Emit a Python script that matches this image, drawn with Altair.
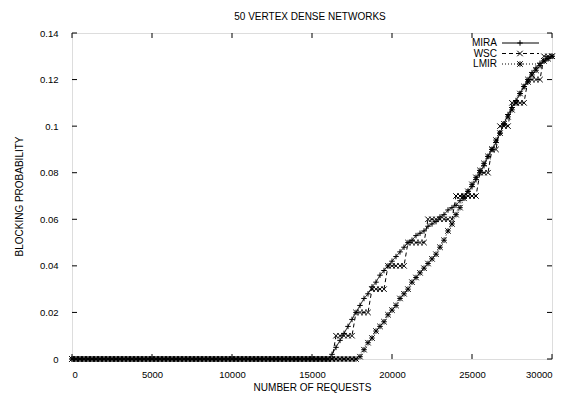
import altair as alt
import pandas as pd

# ---- data ----
requests = list(range(0, 30001, 250))  # 121 sample points

# MIRA: zero up to 15750, then values from 16000 .. 30000
mira = [0.0] * 64 + [
    0.000, 0.002, 0.005, 0.008, 0.011, 0.014, 0.017, 0.020, 0.023, 0.026,
    0.028, 0.031, 0.033, 0.036, 0.038, 0.040, 0.042, 0.044, 0.046, 0.048,
    0.050, 0.051, 0.053, 0.054, 0.055, 0.057, 0.058, 0.059, 0.061, 0.062,
    0.064, 0.065, 0.066, 0.068, 0.070, 0.072, 0.074, 0.077, 0.080, 0.083,
    0.087, 0.090, 0.093, 0.097, 0.101, 0.105, 0.108, 0.111, 0.114, 0.117,
    0.120, 0.123, 0.125, 0.127, 0.128, 0.129, 0.130,
]

# WSC: zero up to 16250, then values from 16500 .. 30000
wsc = [0.0] * 66 + [
    0.01, 0.01, 0.01, 0.01, 0.01,
    0.02, 0.02, 0.02, 0.02,
    0.03, 0.03, 0.03, 0.03,
    0.04, 0.04, 0.04, 0.04, 0.04,
    0.05, 0.05, 0.05, 0.05, 0.05,
    0.06, 0.06, 0.06, 0.06, 0.06, 0.06, 0.06,
    0.07, 0.07, 0.07, 0.07, 0.07, 0.07,
    0.08, 0.08, 0.08,
    0.09, 0.09,
    0.10, 0.10, 0.10,
    0.11, 0.11, 0.11, 0.11,
    0.12, 0.12, 0.12, 0.12,
    0.13, 0.13, 0.13,
]

# LMIR: zero up to 17750, then values from 18000 .. 30000
lmir = [0.0] * 72 + [
    0.001, 0.004, 0.007, 0.009, 0.012, 0.014, 0.016, 0.019, 0.021, 0.023,
    0.026, 0.028, 0.030, 0.033, 0.035, 0.037, 0.039, 0.041, 0.043, 0.045,
    0.048, 0.051, 0.055, 0.058, 0.062, 0.065, 0.069, 0.072, 0.075, 0.078,
    0.081, 0.084, 0.087, 0.090, 0.094, 0.097, 0.101, 0.104, 0.107, 0.110,
    0.114, 0.117, 0.119, 0.122, 0.124, 0.126, 0.128, 0.129, 0.130,
]

series_names = ["MIRA", "WSC", "LMIR"]
x_ticks = [0, 5000, 10000, 15000, 20000, 25000, 30000]
y_ticks = [0, 0.02, 0.04, 0.06, 0.08, 0.1, 0.12, 0.14]
chart_title = "50 VERTEX DENSE NETWORKS"

# ---- styles ----
FONT = "Liberation Sans"
W, H = 480, 326
PLUS = "M-1,0L1,0M0,-1L0,1"
CROSS = "M-1,-1L1,1M-1,1L1,-1"
STAR = "M-1,0L1,0M0,-1L0,1M-1,-1L1,1M-1,1L1,-1"
shapes = [PLUS, CROSS, STAR]
dashes = [[1, 0], [4, 3], [1, 2]]

rows = []
for name, vals in zip(series_names, [mira, wsc, lmir]):
    for r, v in zip(requests, vals):
        rows.append({"requests": r, "value": v, "series": name})
df = pd.DataFrame(rows)

xs = alt.Scale(domain=[0, 30000], nice=False, zero=False)
ys = alt.Scale(domain=[0, 0.14], nice=False)

x_axis = alt.Axis(values=x_ticks, format="d", title="NUMBER OF REQUESTS",
                  ticks=False, tickSize=0, domain=False, grid=False,
                  labelPadding=10, labelFontSize=9.5, titleFontSize=10,
                  titleFontWeight="normal", titleY=31, titleBaseline="alphabetic")
y_axis = alt.Axis(values=y_ticks, format=".2~f", title="BLOCKING PROBABILITY",
                  ticks=False, tickSize=0, domain=False, grid=False,
                  labelPadding=14, labelFontSize=9.5, titleFontSize=10,
                  titleFontWeight="normal", titleX=-48, titleY=H / 2)


def X(field):
    return alt.X(field, scale=xs, axis=x_axis, title="NUMBER OF REQUESTS")


def Y(field):
    return alt.Y(field, scale=ys, axis=y_axis, title="BLOCKING PROBABILITY")


lines = alt.Chart(df).mark_line(color="black", strokeWidth=1).encode(
    x=X("requests:Q"), y=Y("value:Q"),
    strokeDash=alt.StrokeDash("series:N", scale=alt.Scale(domain=series_names, range=dashes), legend=None),
    detail="series:N",
)
points = alt.Chart(df).mark_point(filled=False, color="black", strokeWidth=1, opacity=1, size=30).encode(
    x=X("requests:Q"), y=Y("value:Q"),
    shape=alt.Shape("series:N", scale=alt.Scale(domain=series_names, range=shapes), legend=None),
)

# inward mirrored ticks
xt = pd.DataFrame({"t": x_ticks})
yt = pd.DataFrame({"t": y_ticks})
tick_layers = [
    alt.Chart(xt).mark_rule(color="black", strokeWidth=1).encode(
        x=X("t:Q"), y=alt.value(H), y2=alt.value(H - 5)),
    alt.Chart(xt).mark_rule(color="black", strokeWidth=1).encode(
        x=X("t:Q"), y=alt.value(0), y2=alt.value(5)),
    alt.Chart(yt).mark_rule(color="black", strokeWidth=1).encode(
        y=Y("t:Q"), x=alt.value(0), x2=alt.value(5)),
    alt.Chart(yt).mark_rule(color="black", strokeWidth=1).encode(
        y=Y("t:Q"), x=alt.value(W), x2=alt.value(W - 5)),
]

# title drawn as text above the plot box
title_layer = alt.Chart(pd.DataFrame({"label": [chart_title]})).mark_text(
    align="center", baseline="alphabetic", fontSize=10, font=FONT, color="black"
).encode(text="label:N", x=alt.value(W / 2 - 2), y=alt.value(-13))

# gnuplot-style key (top right)
legend_layers = []
key_y = [10, 20.5, 31]
for name, shp, dash, ky in zip(series_names, shapes, dashes, key_y):
    ldf = pd.DataFrame({"label": [name]})
    legend_layers.append(
        alt.Chart(ldf).mark_text(align="right", baseline="middle", fontSize=10, font=FONT, color="black")
        .encode(text="label:N", x=alt.value(425), y=alt.value(ky)))
    legend_layers.append(
        alt.Chart(ldf).mark_rule(color="black", strokeWidth=1, strokeDash=dash)
        .encode(x=alt.value(430), x2=alt.value(467), y=alt.value(ky)))
    legend_layers.append(
        alt.Chart(ldf).mark_point(shape=shp, filled=False, color="black", strokeWidth=1, opacity=1, size=30)
        .encode(x=alt.value(448), y=alt.value(ky)))

chart = alt.layer(lines, points, *tick_layers, title_layer, *legend_layers).properties(
    width=W, height=H,
    autosize=alt.AutoSizeParams(type="none"),
    padding={"left": 64, "top": 25, "right": 6, "bottom": 35},
).configure_view(stroke="black", strokeWidth=1).configure_axis(
    labelFont=FONT, titleFont=FONT, labelColor="black", titleColor="black"
).configure(background="white")

chart.save("out.html", embed_options={"renderer": "svg", "actions": False})
